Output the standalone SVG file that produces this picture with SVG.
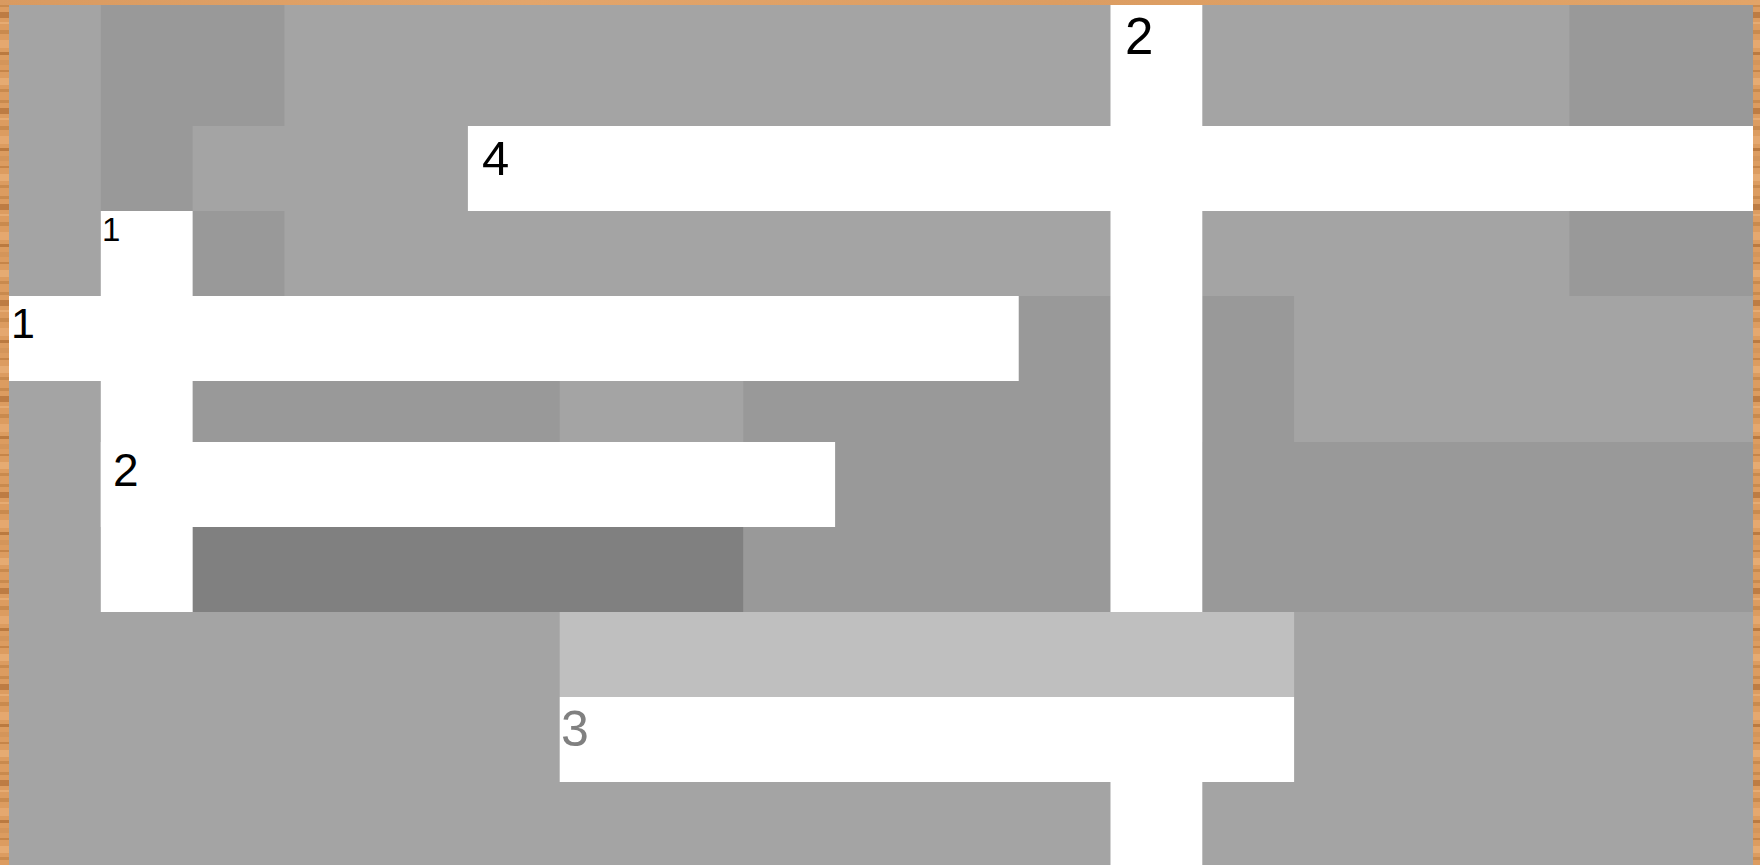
<svg xmlns="http://www.w3.org/2000/svg" width="1760" height="865" viewBox="0 0 1760 865">
<defs>
<pattern id="woodSide" x="0" y="0" width="20" height="96" patternUnits="userSpaceOnUse">
<rect width="20" height="96" fill="#dc9c60"/>
<rect y="4" width="20" height="3" fill="#c98a4e"/>
<rect y="12" width="20" height="6" fill="#bd7c43"/>
<rect y="22" width="20" height="2" fill="#e6ab72"/>
<rect y="30" width="20" height="4" fill="#c98a4e"/>
<rect y="40" width="20" height="8" fill="#e5a86f"/>
<rect y="52" width="20" height="3" fill="#bb7a40"/>
<rect y="60" width="20" height="5" fill="#d4955a"/>
<rect y="70" width="20" height="2" fill="#c68549"/>
<rect y="78" width="20" height="7" fill="#e6ab72"/>
<rect y="89" width="20" height="3" fill="#c98a4e"/>
</pattern>
<linearGradient id="woodTop" x1="0" y1="0" x2="1" y2="0">
<stop offset="0" stop-color="#d99a60"/>
<stop offset="0.3" stop-color="#e3a56b"/>
<stop offset="0.6" stop-color="#dc9d62"/>
<stop offset="1" stop-color="#e2a468"/>
</linearGradient>
</defs>
<style>
.bg{fill:#a4a4a4}
.dk{fill:#999999}
.dd{fill:#808080}
.lt{fill:#bfbfbf}
.wh{fill:#ffffff}
.num{font-family:"Liberation Sans",Arial,sans-serif;fill:#000000}
</style>
<g id="frame">
<rect x="0" y="0" width="1760" height="865" fill="url(#woodSide)"/>
<rect x="0" y="0" width="1760" height="5" fill="url(#woodTop)"/>
</g>
<g id="board">
<rect class="bg" x="9" y="5" width="1744" height="860"/>
<rect class="dk" x="100.8" y="5" width="183.6" height="121"/>
<rect class="dk" x="100.8" y="126" width="91.8" height="85"/>
<rect class="dk" x="192.6" y="211" width="91.8" height="85"/>
<rect class="dk" x="1569.4" y="5" width="183.6" height="121"/>
<rect class="dk" x="1569.4" y="211" width="183.6" height="85"/>
<rect class="dk" x="1018.7" y="296" width="91.8" height="85"/>
<rect class="dk" x="1202.3" y="296" width="91.8" height="316"/>
<rect class="dk" x="192.6" y="381" width="367.1" height="61"/>
<rect class="dk" x="743.3" y="381" width="367.2" height="231"/>
<rect class="dk" x="1202.3" y="442" width="550.7" height="170"/>
<rect class="dd" x="192.6" y="527" width="550.7" height="85"/>
<rect class="lt" x="559.7" y="612" width="734.4" height="85"/>
</g>
<g id="down-2">
<rect class="wh" x="1110.5" y="5" width="91.8" height="607"/>
<rect class="wh" x="1110.5" y="697" width="91.8" height="168"/>
<text class="num" x="1125" y="54" font-size="51">2</text>
</g>
<g id="across-4">
<rect class="wh" x="467.9" y="126" width="1285.1" height="85"/>
<text class="num" x="482" y="175" font-size="49">4</text>
</g>
<g id="down-1">
<rect class="wh" x="100.8" y="211" width="91.8" height="401"/>
<text class="num" x="102" y="241" font-size="33">1</text>
</g>
<g id="across-1">
<rect class="wh" x="9" y="296" width="1009.7" height="85"/>
<text class="num" x="11" y="338" font-size="43">1</text>
</g>
<g id="across-2">
<rect class="wh" x="100.8" y="442" width="734.3" height="85"/>
<text class="num" x="113" y="486" font-size="46">2</text>
</g>
<g id="across-3">
<rect class="wh" x="559.7" y="697" width="734.4" height="85"/>
<text class="num" x="561" y="746" font-size="50" style="fill:#808080">3</text>
</g>
<g id="connectors"/>
</svg>
